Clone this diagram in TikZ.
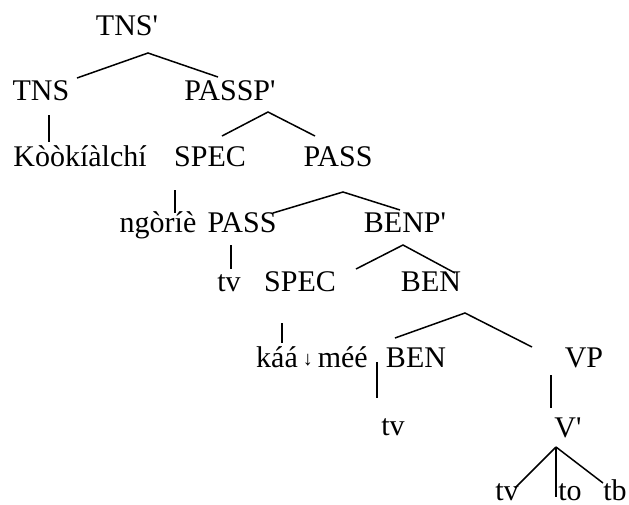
\documentclass[tikz,border=0pt]{standalone}
\usepackage{fontspec}
\setmainfont{Liberation Serif}
\usepackage{tikz}

\tikzset{
    lbl/.style={anchor=base,inner sep=0pt,outer sep=0pt,text height=10pt,text depth=3pt,font=\fontsize{15}{18}\selectfont},
    br/.style={line width=0.75pt}
}

\begin{document}
\begin{tikzpicture}[x=0.5pt,y=-0.5pt]
    \useasboundingbox (0,0) rectangle (629,505);

    \node[lbl] (tnsbar) at (127,35) {TNS\textquotesingle};
    \node[lbl] (tns) at (41,100) {TNS};
    \node[lbl] (passpbar) at (230,100) {PASSP\textquotesingle};

    \node[lbl] (kook) at (80,166) {Kòòkíàlchí};
    \node[lbl] (spec1) at (210,166) {SPEC};
    \node[lbl] (pass1) at (338,166) {PASS};

    \node[lbl] (ngorie) at (158,232) {ngòríè};
    \node[lbl] (pass2) at (242,232) {PASS};
    \node[lbl] (benpbar) at (405,232) {BENP\textquotesingle};

    \node[lbl] (tv1) at (229,291) {tv};
    \node[lbl] (spec2) at (300,291) {SPEC};
    \node[lbl] (ben1) at (431,291) {BEN};

    \node[lbl] (kaa) at (312,367) {káá\,{\fontsize{10}{10}\selectfont\raisebox{1pt}{↓}}\,méé};
    \node[lbl] (ben2) at (416,367) {BEN};
    \node[lbl] (vp) at (584,367) {VP};

    \node[lbl] (tv2) at (393,435) {tv};
    \node[lbl] (vbar) at (568,437) {V\textquotesingle};

    \node[lbl] (tv3) at (507,500) {tv};
    \node[lbl] (to) at (570,500) {to};
    \node[lbl] (tb) at (615,500) {tb};

    \draw[br] ([shift={(36,-22)}]tns.base) -- ([shift={(21,18)}]tnsbar.base) -- ([shift={(-12,-23)}]passpbar.base);
    \draw[br] ([shift={(8,15)}]tns.base) -- ([shift={(-31,-24)}]kook.base);

    \draw[br] ([shift={(12,-30)}]spec1.base) -- ([shift={(38,12)}]passpbar.base) -- ([shift={(-23,-30)}]pass1.base);
    \draw[br] ([shift={(-35,24)}]spec1.base) -- ([shift={(17,-19)}]ngorie.base);

    \draw[br] ([shift={(31,-19)}]pass2.base) -- ([shift={(5,26)}]pass1.base) -- ([shift={(-5,-22)}]benpbar.base);
    \draw[br] ([shift={(-11,13)}]pass2.base) -- ([shift={(2,-22)}]tv1.base);

    \draw[br] ([shift={(56,-22)}]spec2.base) -- ([shift={(-2,13)}]benpbar.base) -- ([shift={(24,-18)}]ben1.base);
    \draw[br] ([shift={(-18,32)}]spec2.base) -- ([shift={(-30,-24)}]kaa.base);

    \draw[br] ([shift={(-21,-29)}]ben2.base) -- ([shift={(34,22)}]ben1.base) -- ([shift={(-52,-20)}]vp.base);
    \draw[br] ([shift={(-39,-5)}]ben2.base) -- ([shift={(-16,-37)}]tv2.base);

    \draw[br] ([shift={(-33,8)}]vp.base) -- ([shift={(-17,-29)}]vbar.base);

    \draw[br] ([shift={(-12,10)}]vbar.base) -- ([shift={(8,-12)}]tv3.base);
    \draw[br] ([shift={(-12,10)}]vbar.base) -- ([shift={(-14,-3)}]to.base);
    \draw[br] ([shift={(-12,10)}]vbar.base) -- ([shift={(-12,-17)}]tb.base);
\end{tikzpicture}
\end{document}
